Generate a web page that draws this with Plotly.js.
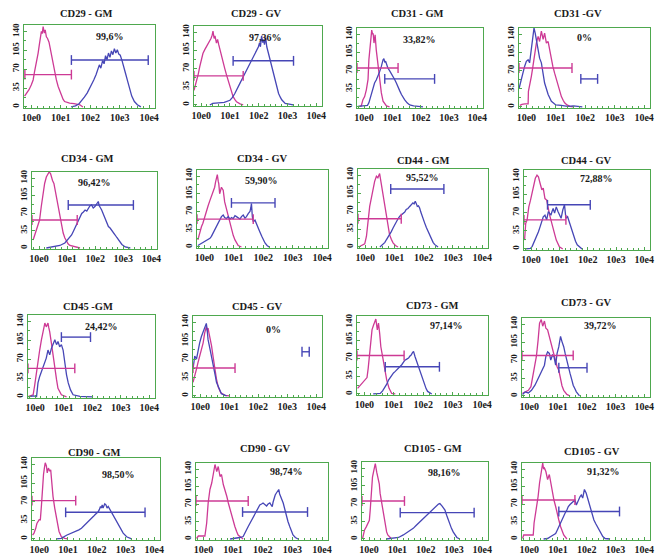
<!DOCTYPE html>
<html><head><meta charset="utf-8">
<script src="https://cdn.plot.ly/plotly-3.0.1.min.js"></script>
<style>html,body{margin:0;padding:0;background:#fff;overflow:hidden}#chart{width:664px;height:556px}</style>
</head><body><div id="chart"></div>
<script>
// ---------- DATA ----------
const titles = ['CD29 - GM','CD29 - GV','CD31 - GM','CD31 -GV','CD34 - GM','CD34 - GV','CD44 - GM','CD44 - GV',
                'CD45 -GM','CD45 - GV','CD73 - GM','CD73 - GV','CD90 - GM','CD90 - GV','CD105 - GM','CD105 - GV'];
const percents = ['99,6%','97,36%','33,82%','0%','96,42%','59,90%','95,52%','72,88%',
                  '24,42%','0%','97,14%','39,72%','98,50%','98,74%','98,16%','91,32%'];
const xTickVals = [0,1,2,3,4];
const xTickText = ['10e0','10e1','10e2','10e3','10e4'];
const yTickVals = [0,35,70,105,140];

// histograms: [log10 fluorescence (decade), events]
const CD29_GM_iso = [[-0.23,20],[-0.15,26],[-0.08,32],[0.0,41],[0.06,50],[0.11,66],[0.17,80],[0.23,100],[0.27,115],[0.31,130],[0.34,140],[0.37,136],[0.40,149],[0.44,137],[0.47,143],[0.51,130],[0.55,127],[0.60,120],[0.64,108],[0.68,100],[0.73,84],[0.79,63],[0.85,50],[0.91,38],[0.97,28],[1.02,20],[1.08,14],[1.13,10],[1.22,8],[1.30,7],[1.45,6],[1.65,4],[1.75,0]];
const CD29_GM_ab = [[1.35,0],[1.5,2],[1.62,6],[1.72,12],[1.8,18],[1.9,26],[1.97,33],[2.05,42],[2.12,50],[2.2,60],[2.26,70],[2.31,78],[2.36,72],[2.42,86],[2.47,80],[2.52,95],[2.57,88],[2.62,100],[2.67,92],[2.72,104],[2.77,97],[2.82,108],[2.87,100],[2.92,106],[2.97,98],[3.02,96],[3.08,86],[3.14,76],[3.2,62],[3.27,48],[3.34,33],[3.41,20],[3.5,10],[3.6,4],[3.72,0]];
const CD29_GV_iso = [[-0.25,28],[-0.2,38],[-0.15,45],[-0.1,60],[-0.05,74],[0.0,88],[0.06,99],[0.12,106],[0.18,112],[0.24,118],[0.30,122],[0.34,128],[0.38,134],[0.41,142],[0.45,128],[0.48,133],[0.53,119],[0.57,126],[0.61,116],[0.65,106],[0.7,95],[0.76,83],[0.82,70],[0.88,58],[0.94,46],[1.0,35],[1.06,25],[1.11,16],[1.18,10],[1.23,6],[1.35,2],[1.46,0]];
const CD29_GV_ab = [[0.3,0],[0.4,3],[0.6,4],[0.8,5],[1.0,9],[1.08,14],[1.17,22],[1.26,31],[1.35,42],[1.44,52],[1.52,61],[1.6,70],[1.68,78],[1.75,87],[1.82,92],[1.87,99],[1.93,106],[1.99,112],[2.03,120],[2.06,112],[2.1,133],[2.14,120],[2.17,126],[2.2,116],[2.24,130],[2.28,112],[2.34,99],[2.4,86],[2.45,74],[2.51,60],[2.57,48],[2.63,35],[2.69,22],[2.75,15],[2.8,10],[2.92,3],[3.1,1],[3.2,0]];
const CD31_GM_iso = [[-0.22,0],[-0.1,2],[-0.04,14],[0.02,20],[0.08,33],[0.12,45],[0.14,53],[0.17,91],[0.2,110],[0.23,136],[0.27,148],[0.3,140],[0.32,142],[0.35,123],[0.39,139],[0.43,110],[0.46,96],[0.49,78],[0.55,53],[0.61,27],[0.67,11],[0.73,5],[0.79,2],[0.9,0]];
const CD31_GM_ab = [[-0.22,1],[0.0,2],[0.12,3],[0.17,8],[0.2,14],[0.26,27],[0.31,37],[0.37,46],[0.43,52],[0.49,59],[0.55,68],[0.61,78],[0.64,86],[0.67,91],[0.7,93],[0.73,86],[0.76,88],[0.8,79],[0.84,75],[0.9,70],[0.96,65],[1.02,58],[1.08,53],[1.14,46],[1.2,40],[1.26,31],[1.32,24],[1.38,18],[1.43,14],[1.52,8],[1.61,4],[1.75,2],[1.85,1],[2.08,0]];
const CD31_GV_iso = [[-0.22,3],[-0.15,5],[-0.05,6],[0.06,6],[0.07,30],[0.1,38],[0.14,48],[0.17,59],[0.22,77],[0.26,94],[0.3,108],[0.34,123],[0.4,136],[0.45,126],[0.51,146],[0.57,130],[0.62,142],[0.68,123],[0.74,126],[0.79,110],[0.85,91],[0.9,78],[0.96,65],[1.02,52],[1.08,40],[1.14,30],[1.19,20],[1.25,13],[1.3,8],[1.38,4],[1.48,1],[1.6,0]];
const CD31_GV_ab = [[-0.25,35],[-0.2,48],[-0.17,53],[-0.1,70],[-0.06,78],[0.0,88],[0.06,91],[0.11,85],[0.17,110],[0.22,136],[0.26,152],[0.3,142],[0.35,123],[0.4,110],[0.45,94],[0.51,85],[0.57,65],[0.62,46],[0.68,35],[0.74,24],[0.85,11],[1.0,4],[1.18,3],[1.4,1],[1.6,2],[1.9,0]];
const CD34_GM_iso = [[-0.21,16],[-0.15,26],[-0.09,36],[-0.04,46],[0.02,56],[0.08,83],[0.14,109],[0.2,129],[0.26,142],[0.31,146],[0.36,152],[0.41,149],[0.45,138],[0.48,135],[0.53,129],[0.57,116],[0.6,109],[0.64,98],[0.68,86],[0.72,70],[0.76,56],[0.81,42],[0.86,30],[0.92,20],[0.98,13],[1.04,8],[1.1,5],[1.28,2],[1.46,0]];
const CD34_GM_ab = [[0.26,0],[0.5,2],[0.74,5],[0.92,10],[1.04,17],[1.1,21],[1.16,26],[1.22,33],[1.28,40],[1.34,48],[1.4,56],[1.46,63],[1.52,69],[1.58,72],[1.64,76],[1.7,74],[1.75,79],[1.81,84],[1.87,86],[1.93,80],[1.99,83],[2.05,88],[2.11,93],[2.14,85],[2.17,83],[2.2,79],[2.23,76],[2.29,68],[2.35,60],[2.41,52],[2.47,43],[2.53,40],[2.59,36],[2.65,30],[2.71,26],[2.77,21],[2.83,17],[2.89,12],[2.95,7],[3.07,2],[3.25,0]];
const CD34_GV_iso = [[-0.22,14],[-0.16,30],[-0.1,40],[-0.05,47],[0.01,60],[0.07,72],[0.13,82],[0.19,92],[0.24,99],[0.3,108],[0.35,118],[0.38,128],[0.41,138],[0.44,143],[0.47,130],[0.49,125],[0.52,105],[0.55,112],[0.58,118],[0.61,115],[0.64,112],[0.69,89],[0.75,74],[0.81,60],[0.87,46],[0.92,34],[0.98,23],[1.04,14],[1.1,8],[1.15,3],[1.26,0]];
const CD34_GV_ab = [[-0.22,3],[-0.16,5],[-0.1,6],[-0.04,9],[0.01,11],[0.07,12],[0.13,14],[0.19,17],[0.24,21],[0.3,28],[0.35,34],[0.41,40],[0.47,47],[0.52,54],[0.58,60],[0.64,63],[0.69,58],[0.75,56],[0.81,60],[0.87,55],[0.92,58],[0.98,56],[1.04,62],[1.09,60],[1.15,57],[1.21,55],[1.26,60],[1.32,63],[1.38,57],[1.43,60],[1.49,66],[1.55,70],[1.58,78],[1.6,86],[1.63,60],[1.66,50],[1.72,53],[1.77,45],[1.83,37],[1.89,29],[1.95,21],[2.0,14],[2.06,8],[2.13,3],[2.2,0]];
const CD44_GM_iso = [[-0.23,0],[-0.14,3],[-0.02,6],[0.04,21],[0.09,53],[0.15,79],[0.21,96],[0.26,112],[0.32,128],[0.38,138],[0.43,135],[0.49,143],[0.52,132],[0.55,125],[0.61,105],[0.66,79],[0.71,62],[0.75,47],[0.79,35],[0.83,24],[0.89,15],[0.95,8],[1.03,3],[1.12,0]];
const CD44_GM_ab = [[0.5,0],[0.61,5],[0.67,9],[0.72,14],[0.78,19],[0.83,24],[0.89,30],[0.95,37],[1.0,43],[1.06,50],[1.12,55],[1.18,60],[1.24,63],[1.29,66],[1.35,68],[1.4,73],[1.46,75],[1.52,79],[1.57,82],[1.63,86],[1.67,84],[1.71,89],[1.75,84],[1.78,79],[1.82,80],[1.86,76],[1.9,68],[1.94,60],[1.98,54],[2.03,47],[2.09,38],[2.15,30],[2.2,22],[2.26,14],[2.32,9],[2.37,5],[2.49,0]];
const CD44_GV_iso = [[-0.23,17],[-0.21,30],[-0.19,49],[-0.14,56],[-0.08,81],[-0.02,94],[0.04,107],[0.09,120],[0.15,136],[0.21,142],[0.26,139],[0.32,126],[0.38,114],[0.43,117],[0.49,97],[0.55,94],[0.61,75],[0.66,64],[0.7,56],[0.74,46],[0.78,37],[0.84,27],[0.89,17],[0.95,10],[1.0,4],[1.12,0]];
const CD44_GV_ab = [[-0.2,0],[-0.02,1],[0.04,5],[0.09,11],[0.15,17],[0.21,24],[0.26,33],[0.32,43],[0.38,53],[0.43,62],[0.49,65],[0.55,56],[0.61,72],[0.66,68],[0.7,65],[0.74,72],[0.78,78],[0.83,69],[0.89,81],[0.95,72],[1.0,66],[1.06,59],[1.12,75],[1.18,85],[1.23,59],[1.29,62],[1.35,52],[1.4,43],[1.46,33],[1.52,24],[1.57,15],[1.63,8],[1.72,3],[1.8,0]];
const CD45_GM_iso = [[-0.23,1],[-0.07,4],[-0.02,20],[0.04,44],[0.1,69],[0.16,87],[0.22,106],[0.28,124],[0.34,137],[0.39,130],[0.42,135],[0.45,137],[0.48,128],[0.51,121],[0.57,100],[0.63,75],[0.69,50],[0.75,32],[0.8,16],[0.86,9],[0.92,4],[1.1,0]];
const CD45_GM_ab = [[-0.23,0],[-0.07,2],[0.05,1],[0.07,20],[0.1,26],[0.16,38],[0.22,48],[0.28,57],[0.33,65],[0.39,72],[0.45,87],[0.51,78],[0.57,90],[0.63,100],[0.69,106],[0.75,97],[0.8,103],[0.86,93],[0.92,97],[0.98,87],[1.04,63],[1.1,41],[1.16,26],[1.24,13],[1.33,4],[1.57,1],[2.03,0]];
const CD45_GV_iso = [[-0.25,26],[-0.19,42],[-0.13,51],[-0.08,63],[-0.02,76],[0.04,88],[0.1,101],[0.15,119],[0.21,132],[0.25,123],[0.27,129],[0.3,120],[0.33,113],[0.39,95],[0.44,76],[0.5,51],[0.56,32],[0.62,17],[0.71,6],[0.85,1],[1.02,0]];
const CD45_GV_ab = [[-0.25,51],[-0.19,76],[-0.13,70],[-0.08,88],[-0.02,101],[0.04,113],[0.1,123],[0.15,132],[0.21,138],[0.24,125],[0.27,107],[0.33,91],[0.39,76],[0.44,62],[0.48,51],[0.52,38],[0.56,26],[0.62,17],[0.68,9],[0.73,4],[0.91,0]];
const CD73_GM_iso = [[-0.23,11],[-0.14,17],[-0.02,24],[0.09,32],[0.13,50],[0.17,73],[0.2,105],[0.26,125],[0.31,134],[0.35,141],[0.39,146],[0.44,125],[0.48,138],[0.52,118],[0.56,92],[0.62,73],[0.69,47],[0.76,27],[0.84,11],[0.93,1],[1.05,0]];
const CD73_GM_ab = [[0.3,0],[0.54,1],[0.62,6],[0.71,14],[0.77,20],[0.82,27],[0.88,32],[0.93,37],[0.99,41],[1.05,44],[1.1,47],[1.16,50],[1.22,53],[1.27,57],[1.33,62],[1.38,66],[1.44,68],[1.5,70],[1.55,74],[1.59,76],[1.63,80],[1.67,83],[1.72,73],[1.78,63],[1.82,57],[1.86,50],[1.9,42],[1.95,34],[2.0,26],[2.04,18],[2.1,10],[2.15,5],[2.29,0]];
const CD73_GV_iso = [[-0.23,5],[-0.14,8],[-0.03,11],[0.06,18],[0.14,44],[0.2,57],[0.25,77],[0.31,109],[0.36,142],[0.42,149],[0.47,136],[0.53,146],[0.58,132],[0.64,129],[0.7,116],[0.75,109],[0.81,96],[0.86,80],[0.92,70],[0.97,57],[1.03,50],[1.09,31],[1.14,20],[1.2,11],[1.31,3],[1.42,0]];
const CD73_GV_ab = [[-0.23,3],[-0.14,8],[-0.03,6],[0.08,11],[0.2,21],[0.31,34],[0.42,47],[0.53,60],[0.58,77],[0.64,86],[0.7,83],[0.75,70],[0.81,80],[0.86,77],[0.92,60],[0.97,83],[1.03,96],[1.09,116],[1.14,106],[1.2,96],[1.25,83],[1.31,67],[1.36,55],[1.42,44],[1.48,32],[1.53,21],[1.59,14],[1.64,8],[1.75,0]];
const CD90_GM_iso = [[-0.23,7],[-0.18,11],[-0.12,20],[-0.08,29],[0.0,36],[0.04,36],[0.08,64],[0.11,102],[0.15,121],[0.18,133],[0.21,143],[0.25,137],[0.28,124],[0.32,133],[0.37,127],[0.4,130],[0.44,102],[0.48,80],[0.54,58],[0.6,39],[0.65,25],[0.69,14],[0.77,4],[0.89,1],[1.0,0]];
const CD90_GM_ab = [[0.6,0],[0.77,1],[0.95,7],[1.12,11],[1.3,14],[1.38,17],[1.47,20],[1.53,23],[1.59,26],[1.65,30],[1.7,33],[1.76,36],[1.82,39],[1.88,42],[1.93,45],[1.99,48],[2.05,51],[2.09,55],[2.13,61],[2.16,58],[2.19,64],[2.22,58],[2.25,61],[2.28,66],[2.32,64],[2.36,58],[2.4,61],[2.44,57],[2.48,55],[2.52,50],[2.57,45],[2.63,39],[2.69,33],[2.75,26],[2.81,20],[2.87,15],[2.92,11],[3.04,4],[3.21,0]];
const CD90_GV_iso = [[-0.23,1],[-0.17,6],[0.05,6],[0.08,20],[0.11,32],[0.16,72],[0.22,99],[0.28,112],[0.33,132],[0.39,149],[0.45,135],[0.5,145],[0.56,125],[0.61,129],[0.67,109],[0.73,99],[0.79,85],[0.84,72],[0.9,58],[0.95,45],[1.0,34],[1.06,25],[1.12,15],[1.17,8],[1.34,0]];
const CD90_GV_ab = [[0.9,0],[1.06,1],[1.23,3],[1.34,5],[1.4,11],[1.45,18],[1.51,25],[1.57,32],[1.62,38],[1.68,45],[1.73,51],[1.79,58],[1.85,63],[1.9,68],[1.96,70],[2.01,72],[2.07,69],[2.13,66],[2.18,70],[2.24,72],[2.28,68],[2.32,65],[2.35,74],[2.38,82],[2.42,88],[2.46,92],[2.5,95],[2.54,99],[2.57,90],[2.61,85],[2.65,78],[2.69,72],[2.75,58],[2.8,45],[2.85,35],[2.91,25],[2.96,16],[3.02,8],[3.1,3],[3.19,0]];
const CD105_GM_iso = [[-0.23,1],[-0.16,18],[-0.1,24],[-0.04,31],[0.01,37],[0.04,57],[0.08,96],[0.12,122],[0.17,136],[0.22,149],[0.27,132],[0.31,122],[0.36,109],[0.39,90],[0.45,70],[0.51,44],[0.57,24],[0.62,14],[0.66,8],[0.8,0]];
const CD105_GM_ab = [[0.6,0],[0.8,1],[1.04,3],[1.21,8],[1.3,11],[1.39,14],[1.48,18],[1.56,21],[1.65,26],[1.74,31],[1.83,36],[1.92,41],[2.03,47],[2.09,50],[2.15,54],[2.21,57],[2.27,60],[2.33,64],[2.39,67],[2.45,69],[2.5,70],[2.55,68],[2.58,65],[2.63,61],[2.68,57],[2.74,47],[2.8,37],[2.85,29],[2.91,21],[2.97,14],[3.03,8],[3.1,3],[3.2,0]];
const CD105_GV_iso = [[-0.23,1],[-0.19,8],[-0.03,8],[0.14,8],[0.17,32],[0.21,45],[0.25,58],[0.31,85],[0.36,112],[0.42,139],[0.47,152],[0.5,140],[0.53,142],[0.58,135],[0.64,119],[0.7,129],[0.75,112],[0.81,99],[0.86,78],[0.92,65],[0.97,55],[1.03,38],[1.09,25],[1.14,16],[1.2,8],[1.31,0]];
const CD105_GV_ab = [[0.5,0],[0.64,1],[0.75,5],[0.92,11],[0.97,17],[1.03,25],[1.08,31],[1.14,38],[1.2,45],[1.25,52],[1.31,58],[1.36,65],[1.42,69],[1.48,72],[1.53,75],[1.59,78],[1.64,68],[1.69,75],[1.73,82],[1.77,85],[1.81,88],[1.86,82],[1.92,99],[1.98,92],[2.05,78],[2.1,68],[2.14,58],[2.2,48],[2.25,38],[2.31,31],[2.37,25],[2.42,18],[2.48,11],[2.56,5],[2.64,1],[2.81,0]];

const isoCurves = [CD29_GM_iso,CD29_GV_iso,CD31_GM_iso,CD31_GV_iso,CD34_GM_iso,CD34_GV_iso,CD44_GM_iso,CD44_GV_iso,
                   CD45_GM_iso,CD45_GV_iso,CD73_GM_iso,CD73_GV_iso,CD90_GM_iso,CD90_GV_iso,CD105_GM_iso,CD105_GV_iso];
const abCurves = [CD29_GM_ab,CD29_GV_ab,CD31_GM_ab,CD31_GV_ab,CD34_GM_ab,CD34_GV_ab,CD44_GM_ab,CD44_GV_ab,
                  CD45_GM_ab,CD45_GV_ab,CD73_GM_ab,CD73_GV_ab,CD90_GM_ab,CD90_GV_ab,CD105_GM_ab,CD105_GV_ab];
// gates: [from decade, to decade, drawn at events level]
const isoGates = [[-0.22,1.36,60],[-0.25,1.46,56],[-0.25,1.2,75],[-0.25,1.55,75],[-0.25,1.36,56],[-0.25,1.66,55],[-0.25,1.23,55],[-0.25,1.23,56],
                  [-0.25,1.39,53],[-0.25,1.2,53],[-0.25,1.35,75],[-0.25,1.53,79],[-0.25,1.27,72],[-0.25,1.51,76],[-0.25,1.25,75],[-0.25,1.59,78]];
const abGates = [[1.36,3.97,87],[1.11,3.21,85],[0.73,2.49,54],[1.85,2.42,54],[1.04,3.36,86],[0.92,2.4,87],[0.87,2.69,113],[0.58,2.09,85],
                 [0.92,1.94,111],[3.51,3.76,84],[0.71,2.55,53],[1.03,2.01,55],[0.92,3.68,50],[1.32,3.51,54],[1.1,3.71,52],[1.03,3.14,55]];

// ---------- LAYOUT POSITIONS (page px) ----------
const frames = [[24,155,25,108],[194,322,26,106],[357,483,28,108],[519,650,28,108],
                [32,157,172,249],[197,328,170,248],[358,488,169,248],[524,650,170,250],
                [28,155,315,398],[193,322,316,397],[357,488,316,395],[522,650,318,397],
                [32,160,458,540],[196,328,463,540],[362,488,462,540],[522,650,463,540]];
const titleX = [86,256,418,578,87,262,423,586,88,257,432,586,94,265,433,592];
const titleY = [14,14,14,14,158,158,160,160,306,306,305,302,452,448,448,451];
const pctPos = [[2.67,130],[2.22,130],[1.96,130],[1.99,133],[1.99,132],[1.95,132],[1.97,136],[2.32,136],
                [2.33,130],[2.52,127],[2.79,133],[2.48,137],[2.75,121],[2.8,135],[2.68,132],[2.59,135]];

// ---------- DRAW ----------
const MAGENTA='#cd3a95', BLUE='#4646b6', GREEN='#4ea84e', TXT='#1a1a1a';
const W=664, H=556;
const FONT='"Liberation Serif", "Times New Roman", serif';
const traces=[], annotations=[];
const layout={width:W,height:H,margin:{l:0,r:0,t:0,b:0},paper_bgcolor:'#fff',plot_bgcolor:'#fff',showlegend:false};

function gateTrace(g,color,xa,ya){
  return {type:'scatter',mode:'lines+markers',x:[g[0],g[1]],y:[g[2],g[2]],xaxis:xa,yaxis:ya,
    line:{color:color,width:1.4},marker:{symbol:'line-ns',size:7,color:color,line:{color:color,width:1.4}},
    hoverinfo:'skip',cliponaxis:false};
}
for(let i=0;i<16;i++){
  const n = i===0 ? '' : String(i+1);
  const xa='x'+n, ya='y'+n;
  const [L,R,T,B]=frames[i];
  layout['xaxis'+n]={domain:[L/W,R/W],anchor:ya,range:[-0.25,4.2],tickmode:'array',tickvals:xTickVals,ticktext:xTickText,
    ticks:'inside',ticklen:3,tickcolor:GREEN,showline:true,mirror:true,linecolor:GREEN,linewidth:1.3,
    showgrid:false,zeroline:false,fixedrange:true,ticklabeloverflow:'allow',
    tickfont:{family:FONT,size:10,weight:'bold',color:TXT},
    minor:{tickmode:'linear',tick0:0,dtick:0.2,ticks:'inside',ticklen:2,tickcolor:GREEN,showgrid:false}};
  layout['yaxis'+n]={domain:[1-B/H,1-T/H],anchor:xa,range:[-2,152],tickmode:'array',tickvals:yTickVals,tickangle:-90,
    ticks:'inside',ticklen:3,tickcolor:GREEN,showline:true,mirror:true,linecolor:GREEN,linewidth:1.3,
    showgrid:false,zeroline:false,fixedrange:true,ticklabeloverflow:'allow',
    tickfont:{family:FONT,size:9,weight:'bold',color:TXT},
    minor:{tickmode:'linear',tick0:0,dtick:17.5,ticks:'inside',ticklen:2,tickcolor:GREEN,showgrid:false}};
  traces.push({type:'scatter',mode:'lines',x:isoCurves[i].map(p=>p[0]),y:isoCurves[i].map(p=>p[1]),xaxis:xa,yaxis:ya,
    line:{color:MAGENTA,width:1.3},hoverinfo:'skip'});
  traces.push({type:'scatter',mode:'lines',x:abCurves[i].map(p=>p[0]),y:abCurves[i].map(p=>p[1]),xaxis:xa,yaxis:ya,
    line:{color:BLUE,width:1.3},hoverinfo:'skip'});
  traces.push(gateTrace(isoGates[i],MAGENTA,xa,ya));
  traces.push(gateTrace(abGates[i],BLUE,xa,ya));
  annotations.push({xref:'paper',yref:'paper',x:titleX[i]/W,y:1-titleY[i]/H,xanchor:'center',yanchor:'middle',
    text:titles[i],showarrow:false,font:{family:FONT,size:10.5,weight:'bold',color:TXT}});
  annotations.push({xref:xa,yref:ya,x:pctPos[i][0],y:pctPos[i][1],xanchor:'center',yanchor:'middle',
    text:percents[i],showarrow:false,font:{family:FONT,size:10,weight:'bold',color:TXT}});
}
layout.annotations=annotations;
Plotly.newPlot('chart',traces,layout,{staticPlot:true,displayModeBar:false});
</script>
</body></html>
